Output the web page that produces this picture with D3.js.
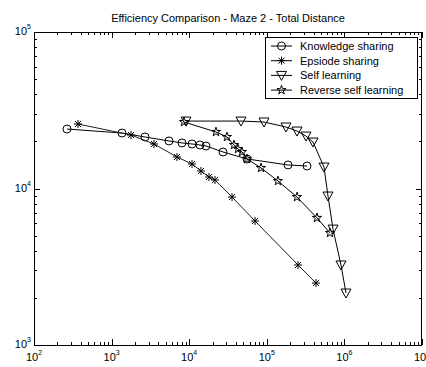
<!DOCTYPE html>
<html><head><meta charset="utf-8">
<script src="https://cdn.jsdelivr.net/npm/d3@7"></script>
<style>body{margin:0;background:#fff}svg{display:block}text{font-family:"Liberation Sans",Arial,sans-serif;fill:#000}</style>
</head><body>
<script>
const title = "Efficiency Comparison - Maze 2 - Total Distance";
const xExponents = [2,3,4,5,6,7];
const yExponents = [3,4,5];
const seriesNames = ["Knowledge sharing","Epsiode sharing","Self learning","Reverse self learning"];

const knowX = [266,1361,2692,5490,8080,10870,13770,16450,27270,55600,187600,329700];
const knowY = [23990,22620,21340,20130,19550,19250,18970,18690,17110,15440,14140,13920];

const episX = [369,1778,3516,6960,10870,14190,17990,21500,35610,70500,252600,430500];
const episY = [25830,21970,19250,15890,14340,12940,11840,11330,8820,6200,3245,2488];

const selfX = [9100,46500,92100,176700,245000,320000,393900,545700,614600,713400,903600,1049000];
const selfY = [26970,26970,26600,24720,23290,21630,19810,13710,8950,5500,3245,2148];

const revX = [8570,22130,30670,37770,42540,47900,55600,84200,139300,245000,443300,652000];
const revY = [26600,22970,21340,18970,17880,17110,15440,13530,11170,8820,6490,5200];

const W=426,H=367;
const L=34,R=422,T=32,B=345;
const svg=d3.select("body").append("svg").attr("width",W).attr("height",H);
const x=d3.scaleLog().domain([1e2,1e7]).range([L,R]);
const y=d3.scaleLog().domain([1e3,1e5]).range([B,T]);

const xMinor=[],yMinor=[];
for(let e=2;e<7;e++)for(let m=2;m<10;m++)xMinor.push(m*Math.pow(10,e));
for(let e=3;e<5;e++)for(let m=2;m<10;m++)yMinor.push(m*Math.pow(10,e));
const xMajor=xExponents.map(e=>Math.pow(10,e));
const yMajor=yExponents.map(e=>Math.pow(10,e));

function ax(gen,tr,vals,size){
  const g=svg.append("g").attr("transform",tr).call(gen.tickValues(vals).tickSize(size).tickFormat(""));
  g.select(".domain").remove();
  g.selectAll("line").attr("stroke","#000").attr("shape-rendering","crispEdges");
}
ax(d3.axisBottom(x),`translate(0,${B})`,xMinor,-3);
ax(d3.axisBottom(x),`translate(0,${B})`,xMajor,-6);
ax(d3.axisTop(x),`translate(0,${T})`,xMinor,-3);
ax(d3.axisTop(x),`translate(0,${T})`,xMajor,-6);
ax(d3.axisLeft(y),`translate(${L},0)`,yMinor,-3);
ax(d3.axisLeft(y),`translate(${L},0)`,yMajor,-6);
ax(d3.axisRight(y),`translate(${R},0)`,yMinor,-3);
ax(d3.axisRight(y),`translate(${R},0)`,yMajor,-6);

svg.append("rect").attr("x",L+0.5).attr("y",T+0.5).attr("width",R-L-1).attr("height",B-T)
  .attr("fill","none").attr("stroke","#000");

xExponents.forEach(e=>{
  const t=svg.append("text").attr("x",x(Math.pow(10,e))).attr("y",B+16).attr("text-anchor","middle").style("font-size","11px");
  t.append("tspan").text("10");
  t.append("tspan").attr("dy",-6).style("font-size","7px").text(e);
});
yExponents.forEach(e=>{
  const t=svg.append("text").attr("x",L-3).attr("y",y(Math.pow(10,e))+3).attr("text-anchor","end").style("font-size","11px");
  t.append("tspan").text("10");
  t.append("tspan").attr("dy",-6).style("font-size","7px").text(e);
});

svg.append("text").attr("x",(L+R)/2).attr("y",22).attr("text-anchor","middle").style("font-size","11px").text(title);

function marker(g,type){
  if(type===0) g.append("circle").attr("r",4).attr("fill","none").attr("stroke","#000");
  else if(type===1){
    g.append("path").attr("d","M-4,0H4M0,-4V4M-3,-3L3,3M-3,3L3,-3").attr("stroke","#000").attr("fill","none");
  } else if(type===2){
    g.append("path").attr("d","M-5,-4H5L0,5Z").attr("fill","none").attr("stroke","#000");
  } else {
    g.append("path").attr("d",d3.symbol(d3.symbolStar,26)()).attr("fill","none").attr("stroke","#000");
  }
}
const series=[[knowX,knowY],[episX,episY],[selfX,selfY],[revX,revY]];
const line=d3.line().x(d=>x(d[0])).y(d=>y(d[1]));
series.forEach((s,i)=>{
  const pts=s[0].map((v,j)=>[v,s[1][j]]);
  svg.append("path").attr("d",line(pts)).attr("fill","none").attr("stroke",i===1?"#222":"#000").attr("stroke-width",1);
  pts.forEach(p=>{
    const g=svg.append("g").attr("transform",`translate(${x(p[0])},${y(p[1])})`);
    marker(g,i);
  });
});

const lg=svg.append("g");
lg.append("rect").attr("x",265.5).attr("y",37.5).attr("width",152).attr("height",61).attr("fill","#fff").attr("stroke","#000");
seriesNames.forEach((n,i)=>{
  const yy=46+i*14.7;
  lg.append("line").attr("x1",271).attr("x2",292).attr("y1",yy).attr("y2",yy).attr("stroke","#000");
  const g=lg.append("g").attr("transform",`translate(281.5,${yy})`);
  marker(g,i);
  lg.append("text").attr("x",300).attr("y",yy+4).style("font-size","11px").text(n);
});
</script>
</body></html>
